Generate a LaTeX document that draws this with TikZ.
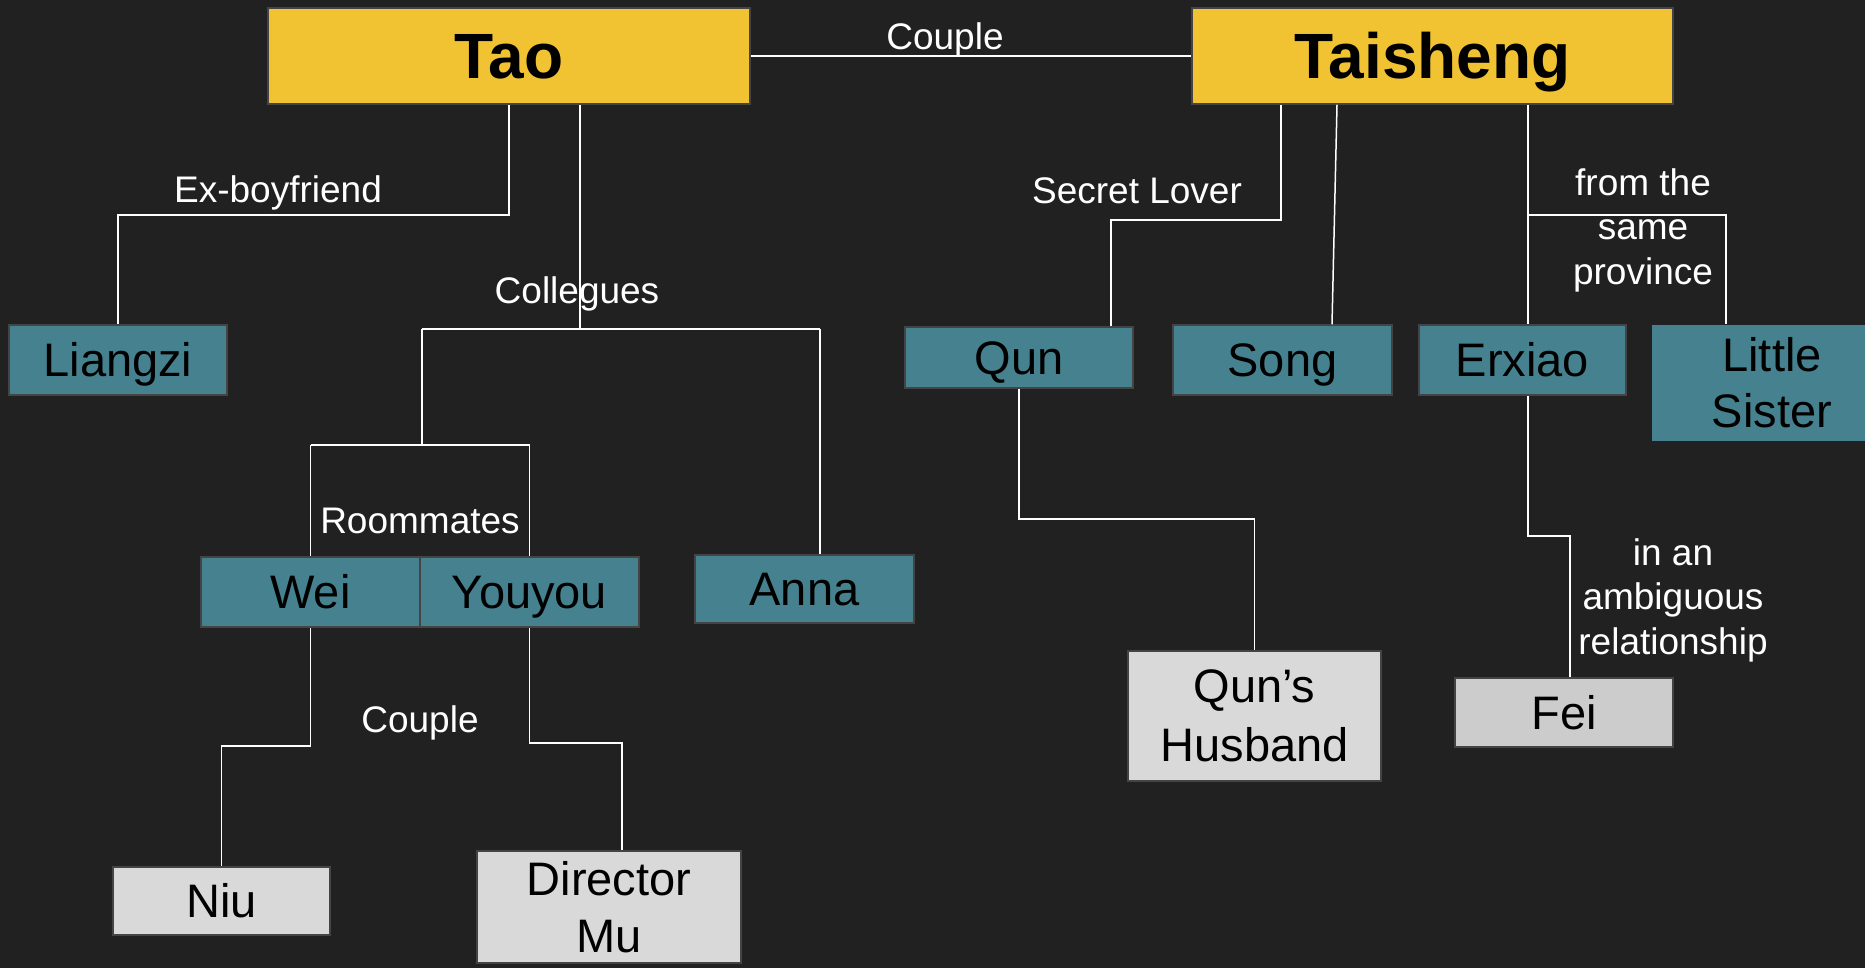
\documentclass[tikz,border=0pt]{standalone}
\usepackage{fontspec}
\setmainfont{Liberation Sans}
\definecolor{bg}{HTML}{212121}
\definecolor{gold}{HTML}{F1C232}
\definecolor{teal}{HTML}{45818E}
\definecolor{lgray}{HTML}{D9D9D9}
\definecolor{mgray}{HTML}{CCCCCC}
\definecolor{edge}{HTML}{444444}
\begin{document}
\begin{tikzpicture}[x=1pt,y=-1pt,
  box/.style={draw=edge,line width=1.5pt,inner sep=0pt,align=center},
  topbox/.style={box,fill=gold,font=\fontsize{64}{70}\selectfont\bfseries,text height=45.8pt,text depth=0pt},
  tealbox/.style={box,fill=teal,font=\fontsize{47}{56}\selectfont,text height=33.7pt,text depth=0pt},
  tealbox2/.style={box,fill=teal,draw=none},
  graybox/.style={box,fill=lgray,font=\fontsize{47}{56}\selectfont,text height=33.7pt,text depth=0pt},
  graybox2/.style={box,fill=lgray},
  rel/.style={text=white,font=\fontsize{37}{44.5}\selectfont,inner sep=0pt,align=center},
  link/.style={draw=white,line width=1.5pt}]
\useasboundingbox (0,0) rectangle (1865,967);
\fill[bg] (-20,-20) rectangle (1885,987);
\clip (-20,-20) rectangle (1865,987);

% top nodes
\node[topbox,minimum width=482pt,minimum height=96pt] (tao) at (509,56) {Tao};
\node[topbox,minimum width=481pt,minimum height=96pt] (tai) at (1432.5,56) {Taisheng};

% teal nodes
\node[tealbox,minimum width=218pt,minimum height=70pt] (liangzi) at (118,360) {Liangzi};
\node[tealbox,minimum width=219pt,minimum height=70pt] (wei) at (310.5,592) {Wei};
\node[tealbox,minimum width=219pt,minimum height=70pt] (youyou) at (529.5,592) {Youyou};
\node[tealbox,minimum width=219pt,minimum height=68pt] (anna) at (804.5,589) {Anna};
\node[tealbox,minimum width=228pt,minimum height=61pt] (qun) at (1019,357.5) {Qun};
\node[tealbox,minimum width=219pt,minimum height=70pt] (song) at (1282.5,360) {Song};
\node[tealbox,minimum width=207pt,minimum height=70pt] (erxiao) at (1522.5,360) {Erxiao};
\node[tealbox2,minimum width=240pt,minimum height=116pt,font=\fontsize{47}{56}\selectfont] (sister) at (1772,383) {Little\\Sister};

% gray nodes
\node[graybox,minimum width=217pt,minimum height=68pt] (niu) at (221.5,901) {Niu};
\node[graybox2,minimum width=264pt,minimum height=112pt,font=\fontsize{47}{57}\selectfont] (mu) at (609,907) {Director\\Mu};
\node[graybox2,minimum width=253pt,minimum height=130pt,font=\fontsize{47}{59}\selectfont] (husband) at (1254.5,716) {Qun’s\\Husband};
\node[graybox,fill=mgray,minimum width=218pt,minimum height=69pt] (fei) at (1564,712.5) {Fei};

% connectors
\draw[link] (tao.east) -- (tai.west);
\draw[link] (509,0 |- tao.south) -- (509,215) -| (liangzi.north);
\draw[link] (580,0 |- tao.south) -- (580,329);
\draw[link] (422,329) -- (820,329);
\draw[link] (422,329) -- (422,445);
\draw[link] (310.5,445) -- (529.5,445);
\draw[link] (310.5,445) -- (wei.north);
\draw[link] (529.5,445) -- (youyou.north);
\draw[link] (820,329) -- (820,0 |- anna.north);
\draw[link] (wei.south) -- (310.5,746) -| (niu.north);
\draw[link] (youyou.south) -- (529.5,743) -| (622,0 |- mu.north);
\draw[link] (1281,0 |- tai.south) -- (1281,220) -| (1111,0 |- qun.north);
\draw[link] (1337,0 |- tai.south) -- (1332,0 |- song.north);
\draw[link] (1528,0 |- tai.south) -- (1528,0 |- erxiao.north);
\draw[link] (1528,215) -| (1726,0 |- sister.north);
\draw[link] (qun.south) -- (1019,519) -| (husband.north);
\draw[link] (1528,0 |- erxiao.south) -- (1528,536) -| (1570,0 |- fei.north);

% relation labels
\node[rel,anchor=base] (lcouple) at (945,49) {Couple};
\node[rel,anchor=base] (lex) at (278,202) {Ex-boyfriend};
\node[rel,anchor=base] (lcol) at (577,303) {Collegues};
\node[rel,anchor=base] (lroom) at (420,533) {Roommates};
\node[rel,anchor=base] (lcouple2) at (420,732) {Couple};
\node[rel,anchor=base] (lsecret) at (1137,203) {Secret Lover};
\node[rel] (lprov) at (1643,230) {from the\\same\\province};
\node[rel] (lamb) at (1673,600) {in an\\ambiguous\\relationship};
\end{tikzpicture}
\end{document}
